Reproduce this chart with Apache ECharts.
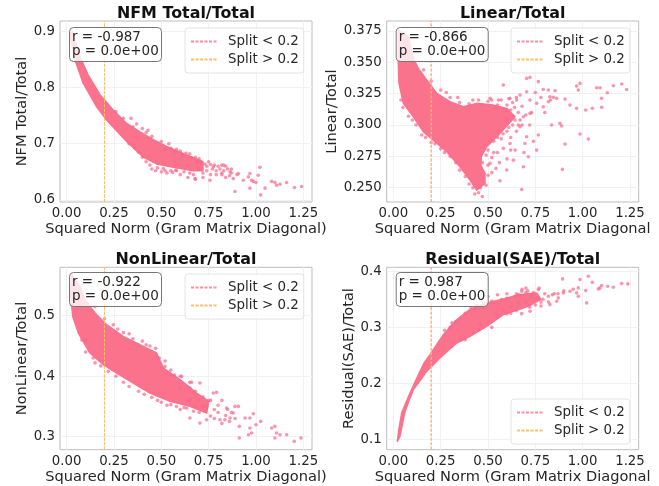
<!DOCTYPE html>
<html><head><meta charset="utf-8">
<style>html,body{margin:0;padding:0;background:#fff}#c{width:659px;height:486px}</style>
<script src="https://cdn.jsdelivr.net/npm/echarts@6/dist/echarts.min.js"></script>
</head><body><div id="c"></div>
<script>
const titles = ['NFM Total/Total','Linear/Total','NonLinear/Total','Residual(SAE)/Total'];
const yNames = ['NFM Total/Total','Linear/Total','NonLinear/Total','Residual(SAE)/Total'];
const xNames = ['Squared Norm (Gram Matrix Diagonal)','Squared Norm (Gram Matrix Diagonal','Squared Norm (Gram Matrix Diagonal)','Squared Norm (Gram Matrix Diagonal'];
const stats = ['r = -0.987\np = 0.0e+00','r = -0.866\np = 0.0e+00','r = -0.922\np = 0.0e+00','r = 0.987\np = 0.0e+00'];
const xTicks = [0,0.25,0.5,0.75,1,1.25];
const yTicks1 = [0.6,0.7,0.8,0.9];
const yTicks2 = [0.25,0.275,0.3,0.325,0.35,0.375];
const yTicks3 = [0.3,0.4,0.5];
const yTicks4 = [0.1,0.2,0.3,0.4];
const splitValue = 0.2;

// outlines of the saturated part of each cloud
const cloud1 = [[.026,.902],[.07,.855],[.114,.822],[.176,.787],[.246,.76],[.317,.736],[.387,.721],[.458,.707],[.528,.695],[.634,.68],[.72,.668],[.72,.652],[.669,.652],[.563,.658],[.475,.664],[.405,.676],[.317,.704],[.211,.742],[.158,.766],[.088,.807],[.044,.849],[.018,.891]];
const cloud2 = [[.026,.3758],[.079,.3705],[.106,.3532],[.132,.3452],[.176,.3359],[.229,.3253],[.299,.3186],[.37,.3146],[.44,.3173],[.528,.3159],[.599,.3133],[.643,.3066],[.563,.2933],[.493,.2827],[.465,.275],[.462,.268],[.484,.2614],[.484,.2534],[.44,.2481],[.405,.2561],[.352,.2667],[.282,.2787],[.211,.288],[.158,.2947],[.106,.3066],[.053,.3173],[.03,.3332],[.026,.3505]];
const cloud3 = [[.026,.5678],[.07,.5485],[.097,.5264],[.15,.5044],[.211,.4851],[.299,.4658],[.387,.4521],[.475,.4383],[.511,.4135],[.599,.3942],[.687,.3722],[.75,.3584],[.74,.3391],[.651,.3501],[.546,.3584],[.44,.3722],[.352,.3887],[.264,.4052],[.194,.419],[.123,.4383],[.062,.4713],[.032,.4989],[.021,.5375]];
const cloud4 = [[.021,.097],[.03,.12],[.044,.1475],[.065,.165],[.088,.1831],[.115,.203],[.141,.2217],[.165,.238],[.194,.2515],[.264,.287],[.326,.311],[.405,.332],[.493,.3436],[.581,.3507],[.669,.3584],[.757,.3614],[.78,.35],[.72,.339],[.687,.3346],[.581,.3228],[.493,.302],[.405,.284],[.335,.2722],[.246,.2455],[.176,.2217],[.14,.205],[.106,.1891],[.083,.17],[.062,.1504],[.048,.128],[.035,.1059]];

// individually visible points
const points1 = [[1.241,.624],[1.203,.622],[1.162,.631],[1.127,.628],[1.1,.631],[1.083,.633],[1.109,.626],[1.025,.609],[1.048,.621],[1.021,.658],[1.012,.644],[.968,.647],[.977,.635],[.968,.621],[.889,.615],[.986,.633],[1,.631],[.96,.641],[.933,.635],[.907,.647],[.88,.638],[.863,.65],[.819,.662],[.775,.659],[.757,.635],[.678,.638],[.577,.653],[.511,.656],[.45,.655],[.47,.652],[.5,.65],[.53,.648],[.56,.649],[.6,.645],[.64,.64],[.68,.637],[.42,.72],[.45,.713],[.5,.704],[.55,.692],[.6,.687],[.65,.682],[.7,.673],[.75,.668],[.8,.66],[.83,.662],[.85,.655],[.87,.648],[.9,.645],[.72,.64],[.79,.645],[.82,.648],[.84,.64],[.3,.745],[.35,.73],[.26,.757],
 [.52,.69],[.54,.7],[.57,.686],[.58,.69],[.61,.68],[.63,.683],[.66,.675],[.68,.676],[.69,.668],[.71,.667],[.73,.664],[.74,.66],[.76,.663],[.77,.655],[.78,.662],[.79,.652],[.81,.655],[.82,.645],[.83,.652],[.84,.66],[.86,.643],[.87,.655],[.7,.655],[.72,.648],[.74,.652],[.76,.645],[.67,.645],[.65,.648],[.62,.65],[.58,.652],[.55,.652],[.52,.652],[.48,.657],[.44,.662],[.42,.668],[.4,.676],[.38,.685],[.36,.692],[.33,.7],[.43,.724],[.4,.727],[.37,.735],[.34,.745]];
const points2 = [[1.232,.3284],[1.206,.3327],[1.162,.3314],[1.13,.3258],[1.1,.3213],[1.1,.3141],[1.092,.3298],[1.074,.3298],[1.051,.3133],[1.016,.312],[.968,.3133],[1.03,.2888],[.986,.2928],[.907,.2848],[.893,.2646],[.986,.3332],[.968,.3311],[.977,.3279],[.933,.3159],[.907,.3207],[.88,.3013],[.889,.2992],[.836,.3],[.863,.3213],[.845,.3221],[.827,.3226],[.819,.3186],[.792,.3284],[.819,.3279],[.854,.3274],[.766,.3346],[.722,.338],[.704,.3372],[.704,.3266],[.722,.3199],[.757,.3173],[.792,.3146],[.722,.3093],[.766,.292],[.757,.28],[.704,.2907],[.695,.2853],[.713,.2747],[.687,.2667],[.678,.2486],[.563,.2556],[.542,.2654],[.511,.2694],[.599,.2641],[.581,.2814],[.616,.2853],[.643,.28],[.634,.272],[.669,.2986],[.643,.304],[.687,.3066],[.581,.3319],[.511,.3213],[.555,.3199],[.616,.3213],[.669,.3239],[.651,.3199],[.3,.322],[.35,.318],[.4,.317],[.45,.32],[.5,.319],[.55,.316],[.6,.316],[.62,.312],[.05,.314],[.1,.304],[.15,.292],[.2,.286],[.25,.281],[.3,.275],[.35,.264],[.4,.253],[.43,.245],[.45,.246],[.47,.243],[.49,.252],[.5,.26],[.47,.27],[.5,.28],[.53,.287],[.57,.289],[.6,.295],[.63,.3],[.66,.31],[.68,.315],[.65,.295],[.62,.29],[.55,.278],[.52,.274],[.6,.305],
 [.42,.32],[.47,.316],[.52,.32],[.54,.313],[.57,.32],[.59,.311],[.61,.321],[.63,.318],[.65,.322],[.64,.314],[.67,.304],[.66,.3],[.7,.308],[.68,.3],[.72,.3],[.73,.31],[.75,.326],[.78,.322],[.8,.31],[.83,.32],[.74,.287],[.69,.278],[.62,.28],[.6,.273],[.56,.27],[.53,.278],[.51,.288],[.55,.29],[.58,.293],[.61,.298],[.49,.276],[.5,.268],[.52,.262],[.46,.25],[.42,.25],[.38,.259],[.33,.27],[.27,.278],[.22,.285],[.17,.29],[.12,.3],[.08,.307],[.04,.32],[.28,.326],[.25,.328],[.2,.335],[.34,.322],[.16,.344]];
const points3 = [[1.238,.2978],[1.202,.2923],[1.162,.3033],[1.127,.3033],[1.1,.2978],[1.1,.3171],[1.083,.3143],[1.109,.3061],[1.025,.3253],[1,.3198],[.986,.338],[.942,.3309],[.968,.3309],[.912,.3171],[.968,.3143],[.977,.3061],[.96,.3033],[.912,.2978],[.889,.3501],[.907,.3501],[.88,.3391],[.845,.3474],[.863,.3309],[.836,.3281],[.81,.3281],[.775,.3722],[.792,.3733],[.704,.3887],[.66,.3898],[.563,.4008],[.607,.3997],[.704,.3226],[.651,.3309],[.634,.3474],[.739,.3281],[.722,.3501],[.246,.4851],[.3,.472],[.35,.462],[.42,.452],[.47,.446],[.52,.416],[.57,.402],[.65,.381],[.72,.366],[.75,.36],[.8,.352],[.85,.345],[.1,.44],[.15,.422],[.22,.408],[.3,.39],[.38,.375],[.45,.365],[.5,.357],[.55,.353],[.6,.345],[.67,.342],[.76,.334],[.82,.322],[.86,.325],
 [.1,.46],[.08,.46],[.14,.43],[.18,.417],[.26,.4],[.33,.383],[.41,.37],[.48,.36],[.53,.352],[.58,.35],[.62,.348],[.68,.35],[.7,.36],[.74,.35],[.78,.345],[.8,.34],[.82,.36],[.76,.36],[.68,.375],[.65,.39],[.6,.4],[.55,.41],[.52,.425],[.49,.43],[.44,.45],[.4,.458],[.33,.47],[.27,.478],[.2,.495],[.15,.515],[.6,.38],[.65,.36],[.72,.35],[.7,.34],[.78,.33],[.84,.335],[.87,.34],[.89,.33]];
const points4 = [[1.238,.3774],[1.206,.378],[1.162,.3715],[1.132,.3733],[1.1,.3745],[1.092,.3703],[1.083,.3685],[1.051,.3804],[1.03,.3911],[1.021,.3436],[1.016,.3655],[.986,.3851],[.977,.3703],[.968,.3614],[.977,.3554],[.894,.3863],[.933,.3643],[.898,.3614],[.871,.3525],[.827,.3406],[.766,.3673],[.678,.3644],[.66,.3584],[.819,.3554],[.863,.3465],[.722,.3287],[.678,.3245],[.572,.3495],[.6,.352],[.64,.355],[.7,.362],[.74,.362],[.8,.36],[.84,.358],[.9,.365],[.95,.368],[.43,.333],[.47,.345],[.52,.347],[.55,.318],[.6,.324],[.65,.33],[.72,.336],[.78,.338],[.5,.31],[.45,.296],[.38,.278],[.33,.31],[.3,.3],[.35,.315],
 [.7,.37],[.73,.356],[.76,.352],[.79,.35],[.82,.345],[.85,.36],[.87,.36],[.75,.34],[.7,.345],[.66,.344],[.62,.337],[.58,.33],[.54,.326],[.62,.325],[.52,.3],[.46,.305],[.42,.29],[.36,.278],[.41,.335],[.44,.34],[.38,.325],[.31,.308],[.27,.295],[.5,.355],[.55,.358],[.6,.36],[.65,.36],[.68,.368],[.71,.365],[.77,.37],[.78,.345]];

const clouds = [cloud1,cloud2,cloud3,cloud4];
const pointSets = [points1,points2,points3,points4];
const yTicks = [yTicks1,yTicks2,yTicks3,yTicks4];
const yRanges = [[.5964,.918],[.2386,.383],[.2785,.58],[.0822,.407]];
const xRange = [-.035,1.296];
const yDigits = [1,3,1,1];
const gridBoxes = [[60,21,252,181],[386.7,21,252,181],[60,267.3,252,182.4],[386.7,267.3,252,182.4]];
const yGaps = [27,41,24,24];
const statPos = [[69,27],[395.7,27],[69,272],[395.7,272]];
const legendPos = [[185,28],[511,28],[185,274],[511,399]];
const ink = '#262626', pink = '#fa728c';

const option = {animation:false,backgroundColor:'#fff',textStyle:{fontFamily:'DejaVu Sans'},
 title:[],grid:[],xAxis:[],yAxis:[],series:[],legend:[]};

titles.forEach((t,i)=>{
 const g = gridBoxes[i];
 option.grid.push({left:g[0],top:g[1],width:g[2],height:g[3],show:true,borderColor:'#bdbdbd',borderWidth:1,backgroundColor:'#fff'});
 option.title.push({text:t,left:g[0]+g[2]/2,top:g[1]-15,textAlign:'center',padding:0,
   textStyle:{fontFamily:'DejaVu Sans',fontWeight:'bold',fontSize:15.9,color:'#111'}});
 option.title.push({text:stats[i],left:statPos[i][0],top:statPos[i][1],padding:[3,3,3,3],
   backgroundColor:'rgba(255,255,255,0.8)',borderColor:'#777',borderWidth:1,borderRadius:4,
   textStyle:{fontFamily:'DejaVu Sans',fontWeight:'normal',fontSize:13.5,lineHeight:14.5,color:ink}});
 option.xAxis.push({type:'value',gridIndex:i,min:xRange[0],max:xRange[1],name:xNames[i],nameLocation:'middle',nameGap:20,
   nameTextStyle:{fontSize:14.6,color:ink,verticalAlign:'top'},
   axisLine:{show:false},axisTick:{show:false,customValues:xTicks},
   axisLabel:{customValues:xTicks,fontSize:13.3,color:ink,margin:5,formatter:v=>v.toFixed(2)},
   splitLine:{show:true,lineStyle:{color:'#f1f1f1',width:1}}});
 option.yAxis.push({type:'value',gridIndex:i,min:yRanges[i][0],max:yRanges[i][1],name:yNames[i],nameLocation:'middle',nameGap:yGaps[i],
   nameTextStyle:{fontSize:14.6,color:ink},
   axisLine:{show:false},axisTick:{show:false,customValues:yTicks[i]},
   axisLabel:{customValues:yTicks[i],fontSize:13.3,color:ink,margin:5,formatter:v=>v.toFixed(yDigits[i])},
   splitLine:{show:true,lineStyle:{color:'#f1f1f1',width:1}}});
 const outline = clouds[i];
 option.series.push({type:'custom',xAxisIndex:i,yAxisIndex:i,data:outline,silent:true,clip:true,z:2,
   encode:{x:0,y:1},
   renderItem:(p,api)=>p.dataIndex!==0?null:{type:'polygon',
     shape:{points:outline.map(d=>api.coord(d))},
     style:{fill:pink,stroke:pink,lineWidth:1.5,lineJoin:'round'}}});
 option.series.push({type:'scatter',xAxisIndex:i,yAxisIndex:i,data:pointSets[i],symbolSize:3.6,silent:true,z:3,
   itemStyle:{color:'#f8688a',opacity:0.7}});
 const line = [[splitValue,yRanges[i][0]],[splitValue,yRanges[i][1]]];
 option.series.push({type:'line',name:'Split < 0.2',xAxisIndex:i,yAxisIndex:i,data:line,symbol:'none',silent:true,z:4,
   itemStyle:{color:'#ff8d9e'},lineStyle:{color:'#ff8d9e',width:1,type:[3,1.5]}});
 option.series.push({type:'line',name:'Split > 0.2',xAxisIndex:i,yAxisIndex:i,data:line,symbol:'none',silent:true,z:4,
   itemStyle:{color:'#ffc067'},lineStyle:{color:'#ffc067',width:1,type:[3,1.5]}});
 option.legend.push({orient:'vertical',left:legendPos[i][0],top:legendPos[i][1],selectedMode:false,
   itemStyle:{opacity:0},lineStyle:{opacity:1},
   data:['Split < 0.2','Split > 0.2'],itemWidth:27,itemHeight:10,itemGap:5,padding:[7,5,7,5],
   backgroundColor:'rgba(255,255,255,0.8)',borderColor:'#e4e4e4',borderWidth:1,borderRadius:3,
   textStyle:{fontSize:13.4,color:ink,padding:[0,0,0,5]}});
});
echarts.init(document.getElementById('c'),null,{renderer:'canvas'}).setOption(option);
</script></body></html>
